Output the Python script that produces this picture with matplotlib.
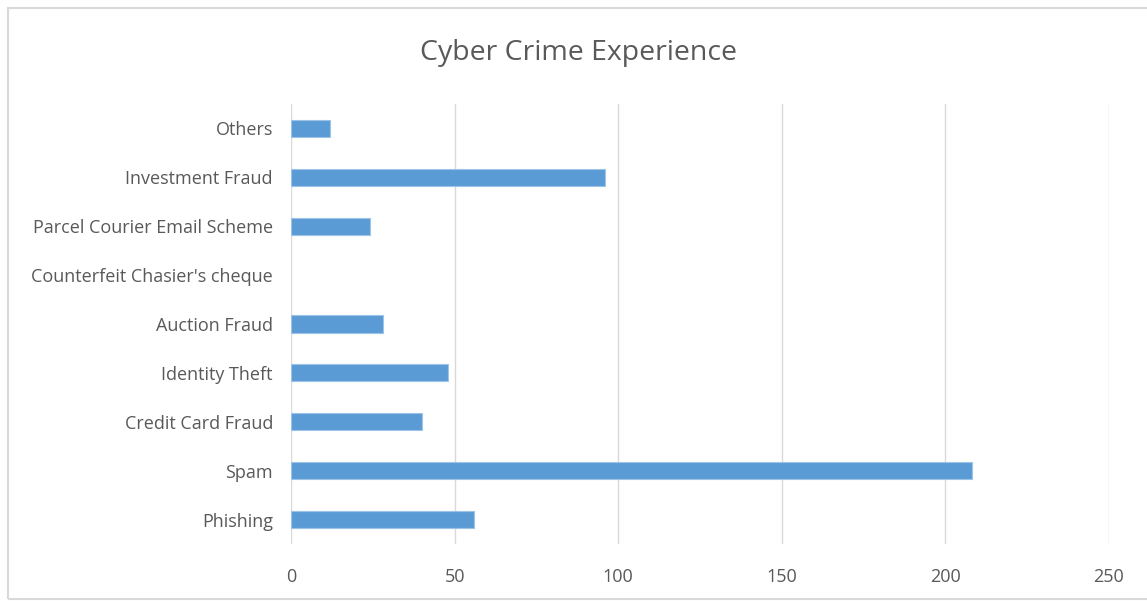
import matplotlib
matplotlib.use("Agg")
import matplotlib.pyplot as plt
from matplotlib.patches import Rectangle

categories = ["Phishing", "Spam", "Credit Card Fraud", "Identity Theft", "Auction Fraud",
              "Counterfeit Chasier's cheque", "Parcel Courier Email Scheme",
              "Investment Fraud", "Others"]
values = [56, 208, 40, 48, 28, 0, 24, 96, 12]
xticks = [0, 50, 100, 150, 200, 250]

plt.rcParams['font.family'] = ['Open Sans', 'DejaVu Sans']

fig = plt.figure(figsize=(11.47, 6.01), dpi=100)
ax = fig.add_axes([291/1147, 1-544/601, (1109-291)/1147, 440/601])

ypos = list(range(len(categories)))
lws = [0.8 if v > 0 else 0 for v in values]
ax.barh(ypos, values, height=0.35, color="#5b9bd5", edgecolor="#9dc3e6", linewidth=lws, zorder=3)
ax.set_yticks(ypos)
ax.set_yticklabels(categories)
ax.set_ylim(-0.5, len(categories) - 0.5)
ax.set_xlim(0, 250)
ax.set_xticks(xticks)
ax.set_xticklabels([str(t) for t in xticks])
ax.grid(axis="x", color="#d9d9d9", linewidth=1, zorder=0)
for s in ax.spines.values():
    s.set_visible(False)
ax.tick_params(axis="both", length=0, labelsize=13, colors="#595959")
ax.tick_params(axis="y", pad=13)
ax.tick_params(axis="x", pad=17)

fig.text(578/1147, 1-53/601, "Cyber Crime Experience", ha="center", va="center",
         fontsize=20.5, color="#595959")

fig.patches.append(Rectangle((8/1147, 0.003), 1.2, 1-8/601-0.003, transform=fig.transFigure,
                             fill=False, edgecolor="#d9d9d9", linewidth=1.5))

fig.savefig("out.png", dpi=100)
